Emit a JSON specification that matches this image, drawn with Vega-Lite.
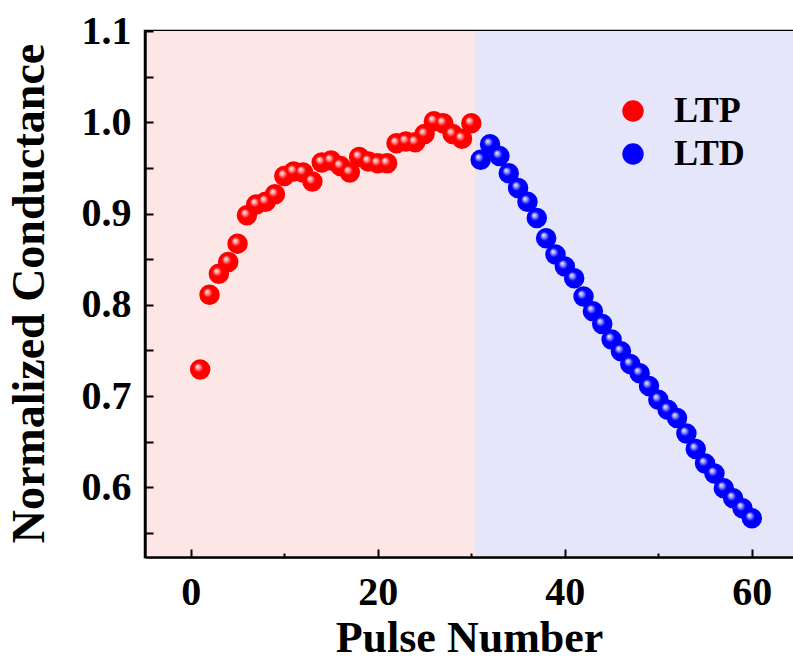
{
  "$schema": "https://vega.github.io/schema/vega-lite/v6.json",
  "width": 648,
  "height": 526,
  "autosize": {"type": "none"},
  "padding": {"left": 145, "top": 31, "right": 0, "bottom": 105},
  "background": "white",
  "config": {
    "view": {"stroke": "black", "strokeWidth": 2.5},
    "font": "Liberation Serif"
  },
  "datasets": {
    "regions": [
      {"region": "LTP", "start": -4.9, "end": 30.4},
      {"region": "LTD", "start": 30.4, "end": 64.4}
    ],
    "points": [
      {"pulse": 1, "g": 0.729, "series": "LTP"},
      {"pulse": 2, "g": 0.811, "series": "LTP"},
      {"pulse": 3, "g": 0.834, "series": "LTP"},
      {"pulse": 4, "g": 0.847, "series": "LTP"},
      {"pulse": 5, "g": 0.867, "series": "LTP"},
      {"pulse": 6, "g": 0.898, "series": "LTP"},
      {"pulse": 7, "g": 0.910, "series": "LTP"},
      {"pulse": 8, "g": 0.913, "series": "LTP"},
      {"pulse": 9, "g": 0.921, "series": "LTP"},
      {"pulse": 10, "g": 0.941, "series": "LTP"},
      {"pulse": 11, "g": 0.946, "series": "LTP"},
      {"pulse": 12, "g": 0.945, "series": "LTP"},
      {"pulse": 13, "g": 0.935, "series": "LTP"},
      {"pulse": 14, "g": 0.956, "series": "LTP"},
      {"pulse": 15, "g": 0.958, "series": "LTP"},
      {"pulse": 16, "g": 0.952, "series": "LTP"},
      {"pulse": 17, "g": 0.945, "series": "LTP"},
      {"pulse": 18, "g": 0.962, "series": "LTP"},
      {"pulse": 19, "g": 0.957, "series": "LTP"},
      {"pulse": 20, "g": 0.955, "series": "LTP"},
      {"pulse": 21, "g": 0.955, "series": "LTP"},
      {"pulse": 22, "g": 0.977, "series": "LTP"},
      {"pulse": 23, "g": 0.979, "series": "LTP"},
      {"pulse": 24, "g": 0.978, "series": "LTP"},
      {"pulse": 25, "g": 0.987, "series": "LTP"},
      {"pulse": 26, "g": 1.001, "series": "LTP"},
      {"pulse": 27, "g": 0.999, "series": "LTP"},
      {"pulse": 28, "g": 0.987, "series": "LTP"},
      {"pulse": 29, "g": 0.982, "series": "LTP"},
      {"pulse": 30, "g": 0.999, "series": "LTP"},
      {"pulse": 31, "g": 0.959, "series": "LTD"},
      {"pulse": 32, "g": 0.976, "series": "LTD"},
      {"pulse": 33, "g": 0.963, "series": "LTD"},
      {"pulse": 34, "g": 0.944, "series": "LTD"},
      {"pulse": 35, "g": 0.928, "series": "LTD"},
      {"pulse": 36, "g": 0.913, "series": "LTD"},
      {"pulse": 37, "g": 0.895, "series": "LTD"},
      {"pulse": 38, "g": 0.873, "series": "LTD"},
      {"pulse": 39, "g": 0.855, "series": "LTD"},
      {"pulse": 40, "g": 0.842, "series": "LTD"},
      {"pulse": 41, "g": 0.829, "series": "LTD"},
      {"pulse": 42, "g": 0.809, "series": "LTD"},
      {"pulse": 43, "g": 0.793, "series": "LTD"},
      {"pulse": 44, "g": 0.779, "series": "LTD"},
      {"pulse": 45, "g": 0.762, "series": "LTD"},
      {"pulse": 46, "g": 0.749, "series": "LTD"},
      {"pulse": 47, "g": 0.735, "series": "LTD"},
      {"pulse": 48, "g": 0.725, "series": "LTD"},
      {"pulse": 49, "g": 0.711, "series": "LTD"},
      {"pulse": 50, "g": 0.696, "series": "LTD"},
      {"pulse": 51, "g": 0.685, "series": "LTD"},
      {"pulse": 52, "g": 0.676, "series": "LTD"},
      {"pulse": 53, "g": 0.659, "series": "LTD"},
      {"pulse": 54, "g": 0.642, "series": "LTD"},
      {"pulse": 55, "g": 0.626, "series": "LTD"},
      {"pulse": 56, "g": 0.615, "series": "LTD"},
      {"pulse": 57, "g": 0.599, "series": "LTD"},
      {"pulse": 58, "g": 0.588, "series": "LTD"},
      {"pulse": 59, "g": 0.577, "series": "LTD"},
      {"pulse": 60, "g": 0.566, "series": "LTD"}
    ]
  },
  "layer": [
    {
      "data": {"name": "regions"},
      "mark": {"type": "rect", "clip": true},
      "encoding": {
        "x": {
          "field": "start",
          "type": "quantitative",
          "scale": {"domain": [-4.9, 64.4], "nice": false, "zero": false},
          "axis": {
            "zindex": 1,
            "values": [0, 10, 20, 30, 40, 50, 60],
            "labelExpr": "datum.value % 20 === 0 ? datum.label : ''",
            "title": "Pulse Number",
            "grid": false,
            "domainColor": "black",
            "domainWidth": 2.5,
            "tickColor": "black",
            "tickWidth": 2,
            "tickSize": {"condition": {"test": "datum.value % 20 === 0", "value": -8}, "value": -4},
            "labelFont": "Liberation Serif",
            "labelFontWeight": "bold",
            "labelFontSize": 40,
            "labelColor": "black",
            "labelPadding": 23,
            "labelFlush": false,
            "titleFont": "Liberation Serif",
            "titleFontWeight": "bold",
            "titleFontSize": 44,
            "titleColor": "black",
            "titleBaseline": "alphabetic",
            "titleY": 94
          }
        },
        "x2": {"field": "end"},
        "fill": {
          "field": "region",
          "type": "nominal",
          "scale": {"domain": ["LTP", "LTD"], "range": ["#fde6e6", "#e6e6fa"]},
          "legend": null
        }
      }
    },
    {
      "data": {"name": "points"},
      "mark": {"type": "circle", "size": 420, "opacity": 1, "strokeWidth": 0},
      "encoding": {
        "x": {"field": "pulse", "type": "quantitative"},
        "y": {
          "field": "g",
          "type": "quantitative",
          "scale": {"domain": [0.5236, 1.1], "nice": false, "zero": false},
          "axis": {
            "zindex": 1,
            "values": [0.55, 0.6, 0.65, 0.7, 0.75, 0.8, 0.85, 0.9, 0.95, 1.0, 1.05, 1.1],
            "labelExpr": "abs(datum.value * 10 - round(datum.value * 10)) < 0.01 ? format(datum.value, '.1f') : ''",
            "title": "Normalized Conductance",
            "grid": false,
            "domainColor": "black",
            "domainWidth": 2.5,
            "tickColor": "black",
            "tickWidth": 2,
            "tickSize": -8,
            "labelFont": "Liberation Serif",
            "labelFontWeight": "bold",
            "labelFontSize": 40,
            "labelColor": "black",
            "labelPadding": 22,
            "labelFlush": false,
            "titleFont": "Liberation Serif",
            "titleFontWeight": "bold",
            "titleFontSize": 46,
            "titleColor": "black",
            "titleBaseline": "alphabetic",
            "titleX": -102,
            "titleY": 262
          }
        },
        "fill": {
          "field": "series",
          "type": "nominal",
          "scale": {"domain": ["LTP", "LTD"], "range": ["#ff0000", "#0000ff"]},
          "legend": {
            "orient": "none",
            "legendX": 470,
            "legendY": 62,
            "title": null,
            "padding": 0,
            "symbolType": "circle",
            "symbolSize": 460,
            "symbolStrokeWidth": 0,
            "symbolOpacity": 1,
            "labelFont": "Liberation Serif",
            "labelFontWeight": "bold",
            "labelFontSize": 36,
            "labelColor": "black",
            "labelOffset": 23,
            "rowPadding": 7
          }
        }
      }
    },
    {
      "data": {"name": "points"},
      "mark": {
        "type": "circle",
        "size": 420,
        "strokeWidth": 0,
        "opacity": 1,
        "fill": {
          "gradient": "radial",
          "x1": 0.36, "y1": 0.34, "r1": 0,
          "x2": 0.5, "y2": 0.5, "r2": 0.5,
          "stops": [
            {"offset": 0, "color": "rgba(255,255,255,0.95)"},
            {"offset": 0.18, "color": "rgba(255,255,255,0.65)"},
            {"offset": 0.45, "color": "rgba(255,255,255,0)"},
            {"offset": 1, "color": "rgba(255,255,255,0)"}
          ]
        }
      },
      "encoding": {
        "x": {"field": "pulse", "type": "quantitative"},
        "y": {"field": "g", "type": "quantitative"}
      }
    }
  ],
  "resolve": {"scale": {"fill": "independent"}}
}
